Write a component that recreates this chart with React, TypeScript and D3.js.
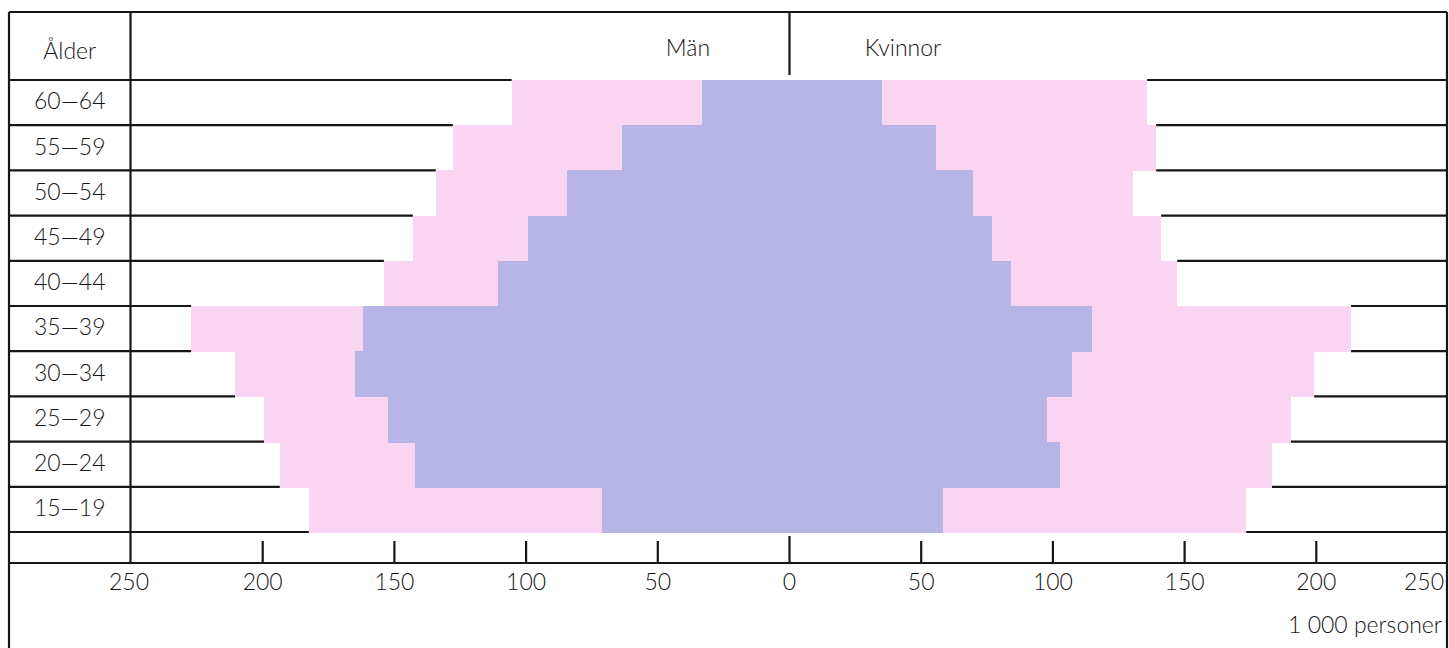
import React from 'react';
import * as d3 from 'd3';

// Age groups, top to bottom
const ageGroups = ['60—64', '55—59', '50—54', '45—49', '40—44', '35—39', '30—34', '25—29', '20—24', '15—19'];
// Thousands of persons
const menTotal = [105.5, 127.8, 134.3, 143, 154, 227.2, 210.5, 199.5, 193.5, 182.5];
const menSub = [33.4, 63.7, 84.6, 99.4, 110.8, 162, 165, 152.5, 142.3, 71];
const womenTotal = [135.8, 139.2, 130.5, 141.1, 147.2, 213.2, 199.2, 190.4, 183.2, 173.4];
const womenSub = [35.3, 55.8, 69.8, 77, 84.2, 115, 107.4, 97.9, 102.8, 58.4];
const tickValues = [-250, -200, -150, -100, -50, 0, 50, 100, 150, 200, 250];
const unitLabel = '1 000 personer';
const ageHeader = 'Ålder';
const menLabel = 'Män';
const womenLabel = 'Kvinnor';

const W = 1449;
const H = 648;
const frameL = 9;
const frameR = 1447;
const frameT = 12;
const colX = 130.5;
const plotTop = 80;
const plotBottom = 532;
const axisY = 563;

const PINK = '#f9d5f1';
const BLUE = '#b7b5e6';
const INK = '#161616';
const FONT = "Lato, 'Open Sans', 'DejaVu Sans', sans-serif";

export default function App() {
  const x = d3.scaleLinear().domain([-250, 250]).range([131, 1448]);
  const y = d3.scaleBand<string>().domain(ageGroups).range([plotTop, plotBottom]).padding(0);
  const cx = x(0);
  const bw = y.bandwidth();

  // separators between rows
  const boundaries = d3.range(ageGroups.length + 1).map((i) => {
    const adj = [i - 1, i].filter((j) => j >= 0 && j < ageGroups.length);
    const mMax = d3.max(adj, (j) => menTotal[j]) as number;
    const wMax = d3.max(adj, (j) => womenTotal[j]) as number;
    const yy = i < ageGroups.length ? (y(ageGroups[i]) as number) : plotBottom;
    return { yy, left: x(-mMax), right: x(wMax) };
  });

  const textStyle: React.CSSProperties = { fontFamily: FONT, fontWeight: 300 };

  return (
    <svg
      width={W}
      height={H}
      style={{ position: 'absolute', left: 0, top: 0, display: 'block', background: '#fff' }}
    >
      {/* bars */}
      <g shapeRendering="crispEdges">
        {ageGroups.map((a, i) => (
          <rect
            key={'p' + a}
            x={x(-menTotal[i])}
            y={y(a)}
            width={x(womenTotal[i]) - x(-menTotal[i])}
            height={bw + 1}
            fill={PINK}
          />
        ))}
        {ageGroups.map((a, i) => (
          <rect
            key={'b' + a}
            x={x(-menSub[i])}
            y={y(a)}
            width={x(womenSub[i]) - x(-menSub[i])}
            height={bw + 1}
            fill={BLUE}
          />
        ))}
      </g>

      {/* frame */}
      <g stroke={INK} strokeWidth={2.2} fill="none">
        <line x1={frameL} x2={frameR} y1={frameT} y2={frameT} />
        <line x1={frameL} x2={frameL} y1={frameT} y2={H} />
        <line x1={frameR} x2={frameR} y1={frameT} y2={H} />
        <line x1={colX} x2={colX} y1={frameT} y2={axisY} />
        <line x1={cx} x2={cx} y1={frameT} y2={75} />
        <line x1={frameL} x2={frameR} y1={axisY} y2={axisY} />
        {boundaries.map((b, i) => (
          <g key={'s' + i}>
            <line x1={frameL} x2={b.left} y1={b.yy} y2={b.yy} />
            <line x1={b.right} x2={frameR} y1={b.yy} y2={b.yy} />
          </g>
        ))}
        {tickValues
          .filter((t) => Math.abs(t) < 250)
          .map((t) => (
            <line key={'t' + t} x1={x(t)} x2={x(t)} y1={axisY} y2={t === 0 ? 536 : 541} />
          ))}
      </g>

      {/* texts */}
      <g fill={INK} style={textStyle} fontSize={23}>
        <text x={(frameL + colX) / 2} y={53} textAnchor="middle" dominantBaseline="middle">
          {ageHeader}
        </text>
        <text x={688} y={50} textAnchor="middle" dominantBaseline="middle">
          {menLabel}
        </text>
        <text x={903} y={50} textAnchor="middle" dominantBaseline="middle">
          {womenLabel}
        </text>
        {ageGroups.map((a) => (
          <text
            key={'l' + a}
            x={(frameL + colX) / 2}
            y={(y(a) as number) + bw / 2 + 1}
            textAnchor="middle"
            dominantBaseline="middle"
          >
            {a}
          </text>
        ))}
        {tickValues.map((t) => {
          const anchor = t === 250 ? 'end' : 'middle';
          const tx = t === 250 ? frameR - 3 : t === -250 ? x(t) - 2 : x(t);
          return (
            <text key={'tl' + t} x={tx} y={584} textAnchor={anchor} dominantBaseline="middle">
              {Math.abs(t)}
            </text>
          );
        })}
        <text x={frameR - 5} y={627} textAnchor="end" dominantBaseline="middle">
          {unitLabel}
        </text>
      </g>
    </svg>
  );
}
